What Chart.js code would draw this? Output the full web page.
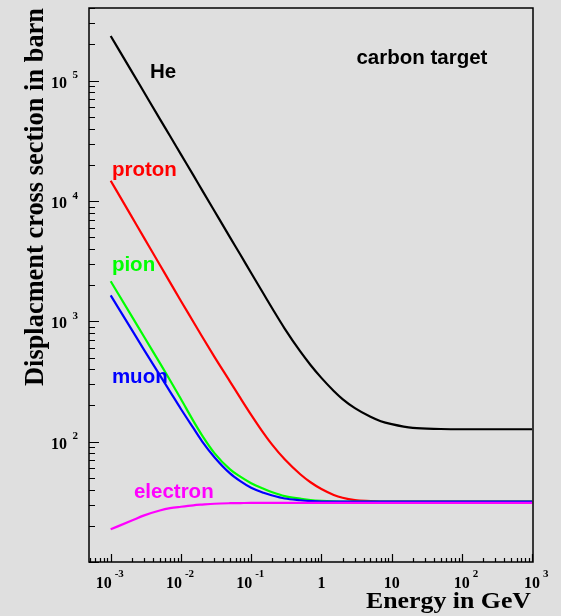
<!DOCTYPE html>
<html>
<head>
<meta charset="utf-8">
<script src="https://cdn.jsdelivr.net/npm/chart.js@4.4.1/dist/chart.umd.min.js"></script>
<style>
    html, body { margin: 0; padding: 0; background: #dfdfdf; }
    canvas { display: block; }
</style>
</head>
<body>
<canvas id="chart" width="561" height="616"></canvas>
<script>
// ─────────────────────────────────────────────
// Displacement cross section vs energy, carbon target
// ─────────────────────────────────────────────

// kinetic energy (GeV)
const energy   = [0.001, 0.002, 0.003, 0.005, 0.007, 0.01, 0.015, 0.02, 0.03, 0.05, 0.07,
                  0.1, 0.15, 0.2, 0.3, 0.5, 0.7, 1, 1.5, 2, 3, 5, 7, 10, 20, 50, 100, 1000];

// cross section (barn)
const helium   = [235500, 119100, 79800, 48200, 34700, 24400, 16400, 12330, 8260, 4990, 3590,
                  2520, 1694, 1279, 871, 562, 434, 339, 264, 226, 190, 161, 148, 140, 130, 127.4, 126.8, 126.8];
const proton   = [14760, 7380, 4920, 2951, 2109, 1476, 993, 748, 507, 316, 231,
                  167, 117.8, 94.0, 71.3, 53.6, 46.0, 40.4, 36.1, 34.2, 32.7, 32.1, 31.8, 31.7, 31.7, 31.7, 31.7, 31.7];
const pion     = [2153, 1099, 741, 452, 324, 226, 149, 113, 80.4, 58.9, 51.2,
                  45.2, 40.6, 38.0, 35.3, 33.6, 32.7, 32.2, 31.9, 31.8, 31.7, 31.7, 31.7, 31.7, 31.7, 31.7, 31.7, 31.7];
const muon     = [1644, 849, 577, 357, 261, 187, 130, 100.7, 74.3, 54.5, 47.0,
                  41.4, 37.6, 35.7, 33.7, 32.6, 32.1, 31.8, 31.8, 31.7, 31.7, 31.7, 31.7, 31.7, 31.7, 31.7, 31.7, 31.7];
const electron = [18.7, 22.1, 24.4, 26.8, 28.0, 28.8, 29.6, 30.0, 30.5, 30.8, 30.9,
                  31, 31, 31, 31, 31, 31, 31, 31, 31, 31, 31, 31, 31, 31, 31, 31, 31];

// decade labels on each axis (powers of ten)
const xTickExps = [-3, -2, -1, 0, 1, 2, 3];
const yTickExps = [2, 3, 4, 5];

// in-plot captions, anchored in data coordinates
const notes = [
    { text: "He",            e: 3.62e-3, v: 1.05e5, color: "#000000" },
    { text: "carbon target", e: 3.15,    v: 1.38e5, color: "#000000" },
    { text: "proton",        e: 1.04e-3, v: 1.62e4, color: "#ff0000" },
    { text: "pion",          e: 1.04e-3, v: 2620,   color: "#00ff00" },
    { text: "muon",          e: 1.04e-3, v: 308,    color: "#0000ff" },
    { text: "electron",      e: 2.14e-3, v: 34,     color: "#ff00ff" },
];

const SERIF = '"Liberation Serif", "Times New Roman", serif';
const SANS  = '"Liberation Sans", Arial, sans-serif';

function series(values, color) {
    return {
        data: energy.map((e, i) => ({ x: e, y: values[i] })),
        borderColor: color,
        borderWidth: 2.2,
        pointRadius: 0,
        fill: false,
        cubicInterpolationMode: "monotone",
    };
}

// "10" with a raised exponent
function drawPower(ctx, left, base, exp, expBase, gap) {
    ctx.font = "bold 16px " + SERIF;
    ctx.textAlign = "left";
    ctx.fillText("10", left, base);
    const w = ctx.measureText("10").width;
    ctx.font = "bold 11px " + SERIF;
    ctx.fillText(String(exp), left + w + gap, expBase);
}

// frame, inward ticks, decade labels, axis titles and captions
const framePlugin = {
    id: "frame",
    afterDraw(chart) {
        const { ctx, chartArea: a, scales: { x, y } } = chart;
        ctx.save();
        ctx.strokeStyle = "#000";
        ctx.fillStyle = "#000";

        ctx.lineWidth = 1.5;
        ctx.strokeRect(a.left, a.top, a.right - a.left, a.bottom - a.top);

        // ticks
        ctx.lineWidth = 1.2;
        ctx.beginPath();
        for (let d = -4; d <= 3; d++) {
            for (let m = 1; m <= 9; m++) {
                const v = m * Math.pow(10, d);
                if (v < x.min || v > x.max) continue;
                const px = Math.round(x.getPixelForValue(v)) + 0.5;
                ctx.moveTo(px, a.bottom);
                ctx.lineTo(px, a.bottom - (m === 1 ? 8 : 4));
            }
        }
        for (let d = 1; d <= 5; d++) {
            for (let m = 1; m <= 9; m++) {
                const v = m * Math.pow(10, d);
                if (v < y.min || v > y.max) continue;
                const py = Math.round(y.getPixelForValue(v)) + 0.5;
                ctx.moveTo(a.left, py);
                ctx.lineTo(a.left + (m === 1 ? 10 : 6), py);
            }
        }
        ctx.stroke();

        // x decade labels
        ctx.textBaseline = "alphabetic";
        xTickExps.forEach(exp => {
            const px = x.getPixelForValue(Math.pow(10, exp));
            const base = a.bottom + 26;
            ctx.font = "bold 16px " + SERIF;
            if (exp === 0 || exp === 1) {
                ctx.textAlign = "center";
                ctx.fillText(exp === 0 ? "1" : "10", px, base);
                return;
            }
            const w = ctx.measureText("10").width;
            const left = exp < 0 ? px - 15 : px - w / 2;
            drawPower(ctx, left, base, exp, base - 11, 3);
        });

        // y decade labels
        yTickExps.forEach(exp => {
            const py = y.getPixelForValue(Math.pow(10, exp));
            ctx.font = "bold 16px " + SERIF;
            const w = ctx.measureText("10").width;
            drawPower(ctx, a.left - 22 - w, py + 7, exp, py - 2.5, 5.5);
        });

        // axis titles
        ctx.font = "bold 23px " + SERIF;
        ctx.textAlign = "left";
        const xt = "Energy in GeV";
        const xw = ctx.measureText(xt).width;
        ctx.save();
        ctx.translate(366, 608);
        ctx.scale(165 / xw, 1);
        ctx.fillText(xt, 0, 0);
        ctx.restore();

        ctx.font = "bold 27px " + SERIF;
        ctx.textAlign = "center";
        const yt = "Displacment cross section in barn";
        const yw = ctx.measureText(yt).width;
        ctx.save();
        ctx.translate(42.5, 197);
        ctx.rotate(-Math.PI / 2);
        ctx.scale(378 / yw, 1);
        ctx.fillText(yt, 0, 0);
        ctx.restore();

        // captions
        ctx.font = "bold 20.5px " + SANS;
        ctx.textAlign = "left";
        notes.forEach(n => {
            ctx.fillStyle = n.color;
            ctx.fillText(n.text, x.getPixelForValue(n.e), y.getPixelForValue(n.v));
        });

        ctx.restore();
    }
};

new Chart(document.getElementById("chart"), {
    type: "line",
    data: {
        datasets: [
            series(electron, "#ff00ff"),
            series(muon,     "#0000ff"),
            series(pion,     "#00ff00"),
            series(proton,   "#ff0000"),
            series(helium,   "#000000"),
        ]
    },
    options: {
        responsive: false,
        animation: false,
        layout: { padding: { left: 89, top: 8, right: 28, bottom: 54 } },
        plugins: {
            legend: { display: false },
            tooltip: { enabled: false },
        },
        scales: {
            x: { type: "logarithmic", min: 4.91e-4, max: 1030, display: false },
            y: { type: "logarithmic", min: 10, max: 4.02e5, display: false },
        }
    },
    plugins: [framePlugin]
});
</script>
</body>
</html>
